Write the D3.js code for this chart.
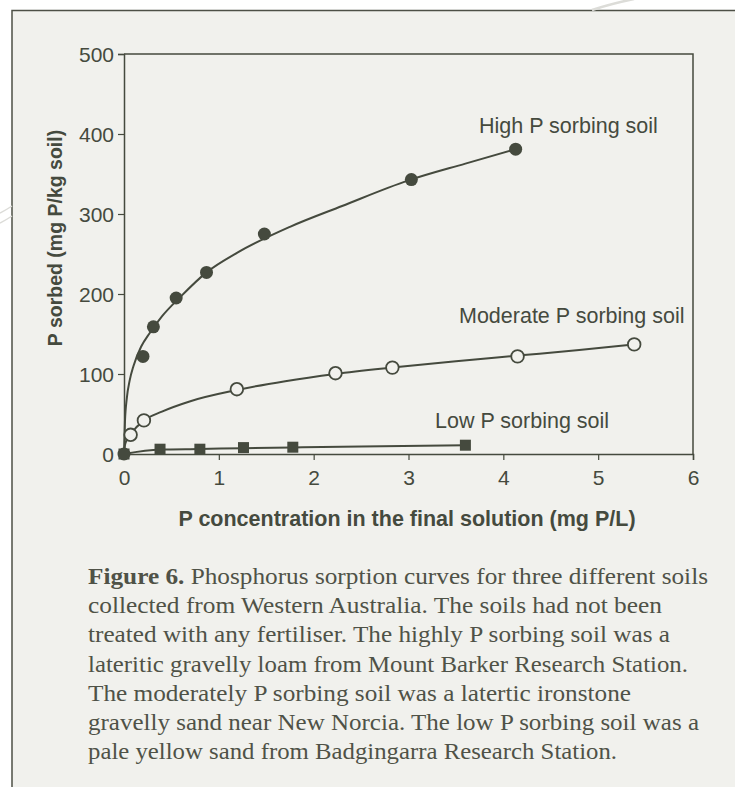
<!DOCTYPE html>
<html>
<head>
<meta charset="utf-8">
<script src="https://cdn.jsdelivr.net/npm/d3@7"></script>
<style>
  html, body { margin: 0; padding: 0; background: #ffffff; }
  svg { display: block; }
</style>
</head>
<body>
<svg id="chart" width="735" height="787"></svg>
<script>
// measured points
const highX = [0, 0.2, 0.31, 0.55, 0.87, 1.48, 3.03, 4.13];
const highY = [0, 122, 159, 195, 227, 275, 343, 381];
const moderateX = [0.07, 0.21, 1.19, 2.23, 2.83, 4.15, 5.38];
const moderateY = [24, 42, 81, 101, 108, 122, 137];
const lowX = [0, 0.38, 0.8, 1.26, 1.78, 3.6];
const lowY = [0, 6, 6, 8, 8.5, 11];

// fitted curves
const highFitX = [0, 0.01, 0.03, 0.06, 0.1, 0.18, 0.27, 0.4, 0.6, 0.87, 1.2, 1.75, 2.3, 3.0, 3.6, 4.13];
const highFitY = [0, 40, 70, 92, 110, 134, 151, 172, 197, 227, 252, 284, 310, 342, 363, 381];
const moderateFitX = [0, 0.01, 0.03, 0.07, 0.21, 0.4, 0.7, 1.19, 1.7, 2.23, 2.83, 3.5, 4.15, 4.8, 5.38];
const moderateFitY = [0, 11, 18, 25, 42, 53, 66, 80, 91, 100, 108, 116, 123, 130, 137];
const lowFitX = [0, 0.38, 0.8, 1.26, 1.78, 2.5, 3.6];
const lowFitY = [0, 5.5, 6.3, 7.3, 8.2, 9.4, 11];

const xTicks = [0, 1, 2, 3, 4, 5, 6];
const yTicks = [0, 100, 200, 300, 400, 500];

const seriesLabels = ["High P sorbing soil", "Moderate P sorbing soil", "Low P sorbing soil"];
const xTitle = "P concentration in the final solution (mg P/L)";
const yTitle = "P sorbed (mg P/kg soil)";
const captionLines = [
  "Phosphorus sorption curves for three different soils",
  "collected from Western Australia. The soils had not been",
  "treated with any fertiliser. The highly P sorbing soil was a",
  "lateritic gravelly loam from Mount Barker Research Station.",
  "The moderately P sorbing soil was a latertic ironstone",
  "gravelly sand near New Norcia. The low P sorbing soil was a",
  "pale yellow sand from Badgingarra Research Station."
];
const captionWidths = [620, 574, 582, 600, 543, 611, 529];

const ink = "#454a3e";
const panelFill = "#f1f1ed";
const sans = "'Liberation Sans', Arial, sans-serif";

const svg = d3.select("#chart");

// page decoration
svg.append("rect").attr("x", 12).attr("y", 10.5).attr("width", 740).attr("height", 800)
  .attr("fill", panelFill);
svg.append("path").attr("d", "M12,800V10.5H740")
  .attr("fill", "none").attr("stroke", "#4d5046").attr("stroke-width", 1.5);
const deco = svg.append("g").attr("fill", "none").attr("stroke", "#dcdcd8");
deco.append("path").attr("d", "M592,10 Q610,4 634,-1").attr("stroke-width", 2.5);
deco.append("path").attr("d", "M0,213 Q6,210 12,206").attr("stroke-width", 1.5);
deco.append("path").attr("d", "M0,223 Q6,220 12,216").attr("stroke-width", 1.5);

const x = d3.scaleLinear().domain([0, 6]).range([124, 693]);
const y = d3.scaleLinear().domain([0, 500]).range([454, 54]);

// plot frame (top + right)
svg.append("path")
  .attr("d", `M${x(0)},${y(500)}H${x(6)}V${y(0)}`)
  .attr("fill", "none").attr("stroke", ink).attr("stroke-width", 1.5);

const xAxis = svg.append("g")
  .attr("transform", `translate(0,${y(0)})`)
  .call(d3.axisBottom(x).tickValues(xTicks).tickSize(6).tickPadding(9).tickFormat(d3.format("d")));
const yAxis = svg.append("g")
  .attr("transform", `translate(${x(0)},0)`)
  .call(d3.axisLeft(y).tickValues(yTicks).tickSize(6).tickPadding(4).tickFormat(d3.format("d")));

[xAxis, yAxis].forEach(g => {
  g.select(".domain").attr("stroke", ink).attr("stroke-width", 1.5);
  g.selectAll(".tick line").attr("stroke", ink).attr("stroke-width", 1.2);
  g.selectAll(".tick text").attr("fill", ink).attr("font-family", sans).attr("font-size", 21);
});
xAxis.selectAll(".tick text").attr("dy", "0.78em");
yAxis.selectAll(".tick text").attr("dy", "0.36em");

svg.append("text")
  .attr("x", 407).attr("y", 526)
  .attr("text-anchor", "middle")
  .attr("font-family", sans).attr("font-weight", "bold").attr("font-size", 21.5)
  .attr("fill", ink).text(xTitle);

svg.append("text")
  .attr("transform", "translate(62,238) rotate(-90)")
  .attr("text-anchor", "middle")
  .attr("font-family", sans).attr("font-weight", "bold").attr("font-size", 19.5)
  .attr("fill", ink).text(yTitle);

// curves
const line = d3.line().x(d => x(d[0])).y(d => y(d[1])).curve(d3.curveMonotoneX);
const fits = [
  d3.zip(highFitX, highFitY),
  d3.zip(moderateFitX, moderateFitY),
  d3.zip(lowFitX, lowFitY)
];
svg.append("g").selectAll("path").data(fits).enter().append("path")
  .attr("d", line)
  .attr("fill", "none").attr("stroke", ink).attr("stroke-width", 2);

// markers
svg.append("g").selectAll("circle.mod").data(d3.zip(moderateX, moderateY)).enter().append("circle")
  .attr("cx", d => x(d[0])).attr("cy", d => y(d[1])).attr("r", 6.3)
  .attr("fill", panelFill).attr("stroke", ink).attr("stroke-width", 1.8);

const sq = 11;
svg.append("g").selectAll("rect").data(d3.zip(lowX, lowY)).enter().append("rect")
  .attr("x", d => x(d[0]) - sq / 2).attr("y", d => y(d[1]) - sq / 2)
  .attr("width", sq).attr("height", sq).attr("fill", ink);

svg.append("g").selectAll("circle.high").data(d3.zip(highX, highY)).enter().append("circle")
  .attr("cx", d => x(d[0])).attr("cy", d => y(d[1])).attr("r", 6.5)
  .attr("fill", ink);

// series labels
const labelPos = [[479, 133], [459, 323], [435, 428]];
svg.append("g").selectAll("text").data(seriesLabels).enter().append("text")
  .attr("x", (d, i) => labelPos[i][0]).attr("y", (d, i) => labelPos[i][1])
  .attr("font-family", sans).attr("font-size", 21.5).attr("fill", ink)
  .text(d => d);

// caption
const cap = svg.append("g")
  .attr("font-family", "'Liberation Serif', 'DejaVu Serif', serif")
  .attr("font-size", 22.5).attr("fill", "#4f5247");
captionLines.forEach((t, i) => {
  const txt = cap.append("text")
    .attr("x", 88).attr("y", 584 + i * 29.2)
    .attr("textLength", captionWidths[i]).attr("lengthAdjust", "spacingAndGlyphs");
  if (i === 0) {
    txt.append("tspan").attr("font-weight", "bold").text("Figure 6. ");
  }
  txt.append("tspan").text(t);
});
</script>
</body>
</html>
